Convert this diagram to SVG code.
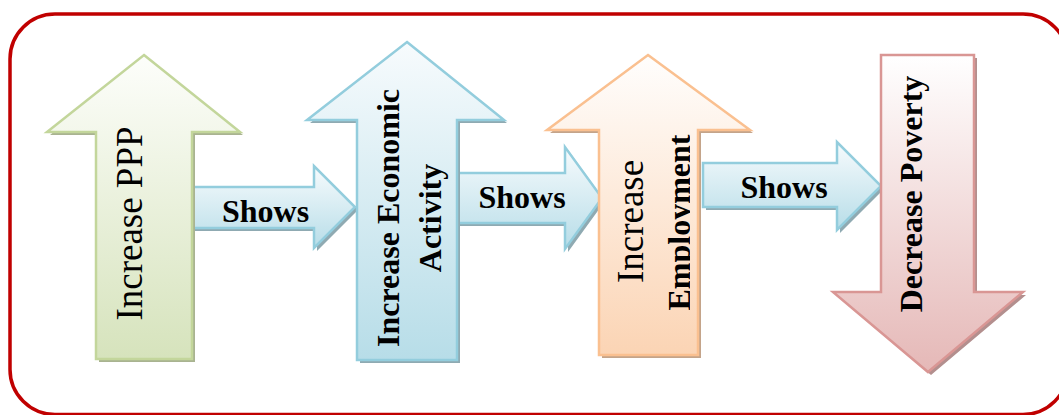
<svg xmlns="http://www.w3.org/2000/svg" xmlns:xlink="http://www.w3.org/1999/xlink" width="1059" height="415" viewBox="0 0 1059 415">
<style>
.frame{fill:#fff;stroke:#C00000;stroke-width:3.5}
.sh{stroke:none}
.lbl{font-family:"Liberation Serif","Times New Roman",serif;fill:#000;text-anchor:middle}
.reg{font-size:37px;font-weight:normal}
.bld{font-size:32px;font-weight:bold}
.conn{fill:url(#gBlue);stroke:#93CDDD;stroke-width:2.5;stroke-linejoin:miter}
</style>
<defs>
<linearGradient id="gGreen" x1="0" y1="0" x2="0" y2="1"><stop offset="0" stop-color="#FDFEFB"/><stop offset="1" stop-color="#D6E3BC"/></linearGradient>
<linearGradient id="gBlue" x1="0" y1="0" x2="0" y2="1"><stop offset="0" stop-color="#F7FBFD"/><stop offset="1" stop-color="#B7DDE8"/></linearGradient>
<linearGradient id="gOrange" x1="0" y1="0" x2="0" y2="1"><stop offset="0" stop-color="#FFFEFD"/><stop offset="1" stop-color="#FBD4B4"/></linearGradient>
<linearGradient id="gRed" x1="0" y1="0" x2="0" y2="1"><stop offset="0" stop-color="#FFFFFF"/><stop offset="1" stop-color="#E5B8B7"/></linearGradient>
<path id="p1" d="M144,55 L240,132 L192,132 L192,359 L96,359 L96,132 L47,132 Z"/>
<path id="p3" d="M407,42 L504,120 L457,120 L457,360 L357,360 L357,120 L307,120 Z"/>
<path id="p4" d="M648,55 L750,130 L698,130 L698,355 L599,355 L599,130 L547,130 Z"/>
<path id="p5" d="M881,55 L974,55 L974,292 L1023,292 L928,372 L833,292 L881,292 Z"/>
<path id="c1" d="M192,187 L314,187 L314,166 L355,207 L314,248 L314,228 L192,228 Z"/>
<path id="c2" d="M457,173 L565,173 L565,147 L602,198 L565,249 L565,223 L457,223 Z"/>
<path id="c3" d="M703,163 L837,163 L837,142 L881,186 L837,230 L837,207 L703,207 Z"/>
<clipPath id="clipEmp"><rect x="600" y="100" width="90" height="255"/></clipPath>
</defs>

<rect class="frame" x="10" y="14" width="1058" height="400.5" rx="45" ry="45"/>

<g id="connectors">
<use xlink:href="#c1" class="sh" fill="#8FAAB2" transform="translate(3,3)"/>
<use xlink:href="#c1" class="conn"/>
<text class="lbl bld" x="265.5" y="222">Shows</text>
<use xlink:href="#c2" class="sh" fill="#8FAAB2" transform="translate(3,3)"/>
<use xlink:href="#c2" class="conn"/>
<text class="lbl bld" x="522" y="208">Shows</text>
<use xlink:href="#c3" class="sh" fill="#8FAAB2" transform="translate(3,3)"/>
<use xlink:href="#c3" class="conn"/>
<text class="lbl bld" x="784" y="198">Shows</text>
</g>

<g id="node-ppp">
<use xlink:href="#p1" class="sh" fill="#A9B391" transform="translate(3,3)"/>
<use xlink:href="#p1" fill="url(#gGreen)" stroke="#C3D69B" stroke-width="2.5"/>
<text class="lbl reg" transform="translate(142,223.5) rotate(-90)">Increase PPP</text>
</g>

<g id="node-economic">
<use xlink:href="#p3" class="sh" fill="#8FAAB2" transform="translate(3,3)"/>
<use xlink:href="#p3" fill="url(#gBlue)" stroke="#93CDDD" stroke-width="2.5"/>
<text class="lbl bld" transform="translate(398.5,218) rotate(-90)">Increase Economic</text>
<text class="lbl bld" transform="translate(441,218) rotate(-90)">Activity</text>
</g>

<g id="node-employment">
<use xlink:href="#p4" class="sh" fill="#C4A48A" transform="translate(3,3)"/>
<use xlink:href="#p4" fill="url(#gOrange)" stroke="#FAC090" stroke-width="2.5"/>
<text class="lbl reg" transform="translate(643,221.5) rotate(-90)">Increase</text>
<g clip-path="url(#clipEmp)">
<text class="lbl bld" transform="translate(689.5,222.5) rotate(-90)">Employment</text>
</g>
</g>

<g id="node-poverty">
<use xlink:href="#p5" class="sh" fill="#B38F8E" transform="translate(3,3)"/>
<use xlink:href="#p5" fill="url(#gRed)" stroke="#D99694" stroke-width="2.5"/>
<text class="lbl bld" transform="translate(921.5,194) rotate(-90)">Decrease Poverty</text>
</g>
</svg>
